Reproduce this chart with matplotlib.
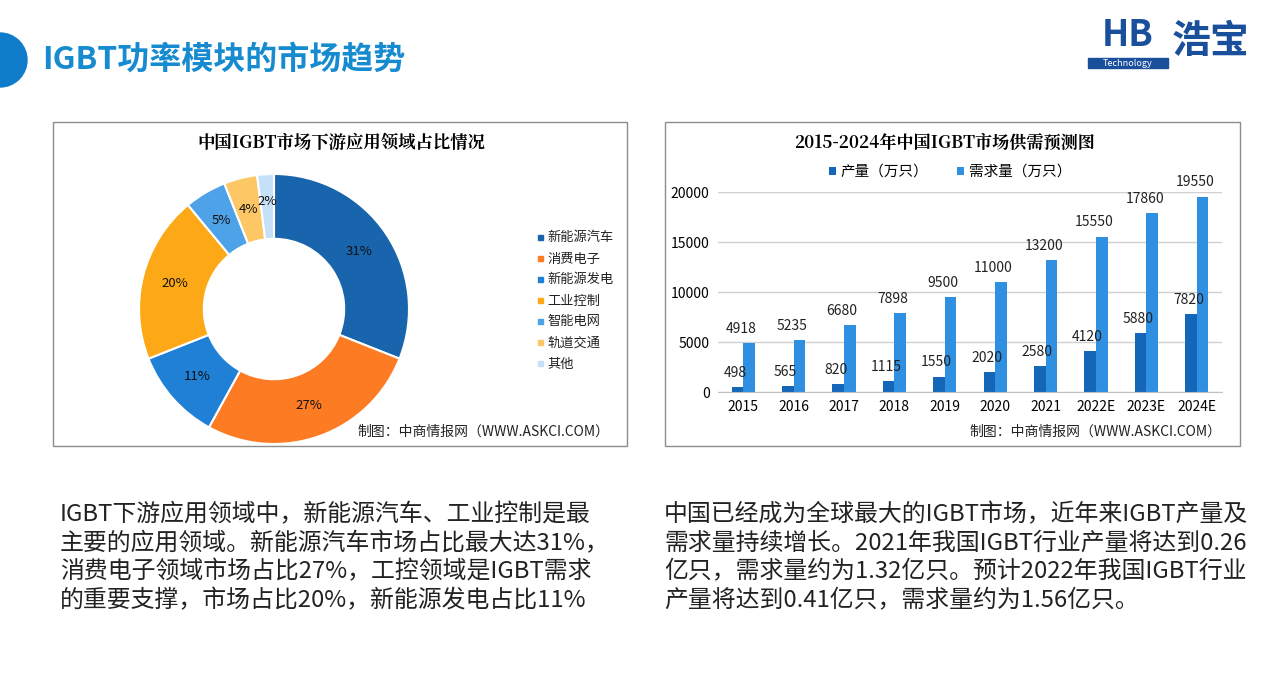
import matplotlib
matplotlib.use("Agg")
import matplotlib.pyplot as plt
from matplotlib.patches import Rectangle, Circle
import numpy as np

plt.rcParams['font.family'] = ['Noto Sans CJK SC', 'DejaVu Sans']

pie_labels = ['新能源汽车', '消费电子', '新能源发电', '工业控制', '智能电网', '轨道交通', '其他']
pie_values = [31, 27, 11, 20, 5, 4, 2]
pie_colors = ['#1865ad', '#fd7b22', '#1f80d6', '#fda917', '#4ea2e8', '#fdc765', '#c6e0f7']

years = ['2015', '2016', '2017', '2018', '2019', '2020', '2021', '2022E', '2023E', '2024E']
production = [498, 565, 820, 1115, 1550, 2020, 2580, 4120, 5880, 7820]
demand = [4918, 5235, 6680, 7898, 9500, 11000, 13200, 15550, 17860, 19550]
yticks = [0, 5000, 10000, 15000, 20000]

W, H = 1280, 695
fig = plt.figure(figsize=(12.8, 6.95), dpi=100)
fig.patch.set_facecolor('white')

def ax_px(x, y, w, h, **kw):
    return fig.add_axes([x / W, 1 - (y + h) / H, w / W, h / H], **kw)

bg = ax_px(0, 0, W, H)
bg.set_xlim(0, W); bg.set_ylim(H, 0); bg.axis('off')
bg.add_patch(Circle((0, 60), 27, color='#0f7cc9'))
bg.text(42, 60, 'IGBT功率模块的市场趋势', fontsize=23, fontweight='bold', color='#168bcf', va='center')
bg.text(1172, 42, '浩宝', fontsize=28, fontweight='bold', color='#1a4f9c', va='center')
bg.text(1128, 36, 'HB', fontsize=26, fontweight='bold', style='italic', color='#1a4f9c', va='center', ha='center')
bg.add_patch(Rectangle((1088, 58), 80, 10, color='#1a4f9c'))
bg.text(1128, 63, 'Technology', fontsize=6.5, style='italic', color='white', va='center', ha='center')
for (x0, y0) in [(53, 122), (665, 122)]:
    bg.add_patch(Rectangle((x0, y0), 574 if x0 == 53 else 575, 324, fill=False, ec='#8c8c8c', lw=1))
bg.text(341, 143, '中国IGBT市场下游应用领域占比情况', fontsize=12.5, fontweight='bold', ha='center', va='center', family=['Noto Serif CJK SC', 'Noto Sans CJK SC'])
bg.text(944, 143, '2015-2024年中国IGBT市场供需预测图', fontsize=12.3, fontweight='bold', ha='center', va='center', family=['Noto Serif CJK SC', 'Noto Sans CJK SC'])
bg.text(483, 432, '制图：中商情报网（WWW.ASKCI.COM）', fontsize=10, ha='center', va='center', color='#222222')
bg.text(1095, 432, '制图：中商情报网（WWW.ASKCI.COM）', fontsize=10, ha='center', va='center', color='#222222')

left_text = ['IGBT下游应用领域中，新能源汽车、工业控制是最',
             '主要的应用领域。新能源汽车市场占比最大达31%，',
             '消费电子领域市场占比27%，工控领域是IGBT需求',
             '的重要支撑，市场占比20%，新能源发电占比11%']
right_text = ['中国已经成为全球最大的IGBT市场，近年来IGBT产量及',
              '需求量持续增长。2021年我国IGBT行业产量将达到0.26',
              '亿只，需求量约为1.32亿只。预计2022年我国IGBT行业',
              '产量将达到0.41亿只，需求量约为1.56亿只。']
for i, t in enumerate(left_text):
    bg.text(60, 515 + i * 28.5, t, fontsize=17.2, va='center', color='#222222')
for i, t in enumerate(right_text):
    bg.text(664, 515 + i * 28.5, t, fontsize=17.2, va='center', color='#222222')

# donut
pax = ax_px(139, 174, 270, 270)
wedges, _ = pax.pie(pie_values, colors=pie_colors, startangle=90, counterclock=False,
                    radius=1, wedgeprops=dict(width=0.48, edgecolor='white', linewidth=1.5))
pax.set_xlim(-1, 1); pax.set_ylim(-1, 1)
pax.set_aspect('equal')
ang = 90
for v, w in zip(pie_values, wedges):
    mid = np.deg2rad(ang - v * 3.6 / 2)
    ang -= v * 3.6
    r = 0.76 if v > 3 else 0.8
    pax.text(r * np.cos(mid), r * np.sin(mid), f'{v}%', ha='center', va='center', fontsize=9.5, color='#111111')
for i, (lab, c) in enumerate(zip(pie_labels, pie_colors)):
    yy = 238 + i * 21
    bg.add_patch(Rectangle((538, yy - 3), 5, 5, color=c))
    bg.text(547, yy, lab, fontsize=9.5, va='center', color='#222222')

# bars
bax = ax_px(718, 192, 504, 200)
x = np.arange(len(years))
bw = 0.23
bax.bar(x - bw / 2, production, bw, color='#1467b8', label='产量（万只）')
bax.bar(x + bw / 2, demand, bw, color='#2f8fe0', label='需求量（万只）')
for xi, p, d in zip(x, production, demand):
    bax.text(xi - bw / 2 - 0.05, p + 700, str(p), ha='center', va='bottom', fontsize=10, color='#222222')
    bax.text(xi + bw / 2 - 0.15, d + 700, str(d), ha='center', va='bottom', fontsize=10, color='#222222')
bax.set_xlim(-0.5, len(years) - 0.5)
bax.set_ylim(0, 20000)
bax.set_yticks(yticks)
bax.set_yticklabels([str(t) for t in yticks], fontsize=10)
bax.set_xticks(x)
bax.set_xticklabels(years, fontsize=10)
bax.grid(axis='y', color='#d0d0d0', lw=1)
bax.set_axisbelow(True)
for s in bax.spines.values():
    s.set_visible(False)
bax.spines['bottom'].set_visible(True)
bax.spines['bottom'].set_color('#c0c0c0')
bax.tick_params(length=0, pad=6)
bax.legend(loc='lower center', bbox_to_anchor=(0.46, 1.0), ncol=2, frameon=False, fontsize=10.5,
           handlelength=0.5, handleheight=0.5, columnspacing=2, handletextpad=0.3)

fig.savefig('out.png', dpi=100, facecolor='white')
